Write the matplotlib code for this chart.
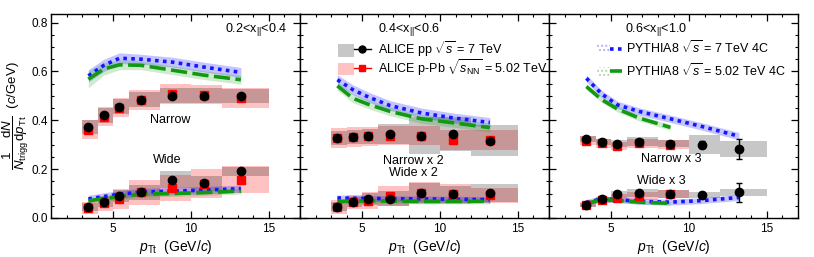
import numpy as np
import matplotlib
matplotlib.use('Agg')
import matplotlib.pyplot as plt
from matplotlib.patches import Patch
from matplotlib.lines import Line2D
from matplotlib.legend_handler import HandlerTuple
from matplotlib.ticker import MultipleLocator

plt.rcParams['font.family'] = ['Liberation Sans', 'DejaVu Sans']
plt.rcParams['mathtext.fontset'] = 'custom'
plt.rcParams['mathtext.rm'] = 'Liberation Sans'
plt.rcParams['mathtext.it'] = 'Liberation Sans:italic'
plt.rcParams['mathtext.bf'] = 'Liberation Sans:bold'

# bins and mean pT of the points
bin_edges = [3, 4, 5, 6, 8, 10, 12, 15]
pt_mean = [3.4, 4.4, 5.4, 6.8, 8.8, 10.8, 13.2]

panel_labels = ['0.2<x$_{||}$<0.4', '0.4<x$_{||}$<0.6', '0.6<x$_{||}$<1.0']
narrow_labels = ['Narrow', 'Narrow x 2', 'Narrow x 3']
wide_labels = ['Wide', 'Wide x 2', 'Wide x 3']

# ALICE pp 7 TeV (values, stat, sys)
pp_narrow = [[0.372, 0.42, 0.456, 0.484, 0.501, 0.501, 0.499],
             [0.327, 0.331, 0.334, 0.344, 0.337, 0.343, 0.317],
             [0.323, 0.311, 0.304, 0.313, 0.304, 0.300, 0.283]]
pp_narrow_stat = [[0.004, 0.004, 0.004, 0.004, 0.005, 0.006, 0.008],
                  [0.004, 0.004, 0.004, 0.005, 0.006, 0.008, 0.010],
                  [0.005, 0.005, 0.006, 0.007, 0.010, 0.015, 0.042]]
pp_narrow_sys = [[0.03, 0.03, 0.03, 0.03, 0.03, 0.03, 0.03],
                 [0.03, 0.03, 0.03, 0.04, 0.075, 0.07, 0.063],
                 [0.012, 0.012, 0.015, 0.018, 0.015, 0.038, 0.032]]
pp_wide = [[0.045, 0.064, 0.09, 0.105, 0.157, 0.142, 0.191],
           [0.047, 0.065, 0.079, 0.079, 0.102, 0.098, 0.102],
           [0.054, 0.078, 0.097, 0.102, 0.098, 0.095, 0.105]]
pp_wide_stat = [[0.003, 0.003, 0.004, 0.004, 0.005, 0.006, 0.008],
                [0.003, 0.003, 0.004, 0.004, 0.005, 0.007, 0.012],
                [0.004, 0.004, 0.005, 0.006, 0.008, 0.012, 0.040]]
pp_wide_sys = [[0.015, 0.02, 0.025, 0.03, 0.035, 0.03, 0.018],
               [0.02, 0.02, 0.025, 0.03, 0.04, 0.035, 0.037],
               [0.008, 0.01, 0.015, 0.018, 0.015, 0.012, 0.015]]

# ALICE p-Pb 5.02 TeV (values, sys); last panel stops at 10 GeV/c
ppb_narrow = [[0.362, 0.415, 0.452, 0.483, 0.508, 0.505, 0.492],
              [0.327, 0.331, 0.334, 0.337, 0.337, 0.320, 0.320],
              [0.316, 0.305, 0.295, 0.305, 0.300]]
ppb_narrow_sys = [[0.04, 0.04, 0.04, 0.04, 0.04, 0.04, 0.04],
                  [0.04, 0.04, 0.04, 0.04, 0.04, 0.04, 0.04],
                  [0.018, 0.018, 0.018, 0.02, 0.018]]
ppb_wide = [[0.041, 0.06, 0.078, 0.105, 0.123, 0.14, 0.157],
            [0.045, 0.065, 0.071, 0.091, 0.102, 0.098, 0.093],
            [0.054, 0.072, 0.082, 0.09, 0.098]]
ppb_wide_sys = [[0.025, 0.03, 0.04, 0.05, 0.055, 0.06, 0.055],
                [0.03, 0.03, 0.035, 0.04, 0.045, 0.04, 0.03],
                [0.01, 0.012, 0.015, 0.015, 0.015]]

# PYTHIA8 4C, 7 TeV (blue) and 5.02 TeV (green)
py7_narrow = [[0.582, 0.625, 0.654, 0.65, 0.638, 0.618, 0.596],
              [0.566, 0.525, 0.495, 0.46, 0.43, 0.41, 0.391],
              [0.572, 0.507, 0.463, 0.436, 0.406, 0.375, 0.335]]
py7_narrow_err = [[0.025, 0.025, 0.022, 0.02, 0.02, 0.02, 0.02],
                  [0.02, 0.02, 0.02, 0.02, 0.02, 0.02, 0.02],
                  [0.015, 0.015, 0.015, 0.015, 0.015, 0.015, 0.015]]
py5_narrow = [[0.568, 0.61, 0.627, 0.625, 0.605, 0.585, 0.566],
              [0.541, 0.49, 0.465, 0.436, 0.406, 0.39, 0.37],
              [0.538, 0.484, 0.446, 0.409, 0.371]]
py5_narrow_err = [[0.035, 0.025, 0.02, 0.018, 0.018, 0.018, 0.018],
                  [0.018, 0.018, 0.018, 0.018, 0.018, 0.018, 0.018],
                  [0.012, 0.012, 0.012, 0.012, 0.012]]
py7_wide = [[0.078, 0.088, 0.097, 0.106, 0.11, 0.114, 0.12],
            [0.082, 0.081, 0.08, 0.079, 0.078, 0.077, 0.075],
            [0.064, 0.078, 0.075, 0.068, 0.065, 0.071, 0.084]]
py7_wide_err = [[0.015, 0.015, 0.015, 0.015, 0.015, 0.015, 0.015],
                [0.012, 0.012, 0.012, 0.012, 0.012, 0.012, 0.012],
                [0.012, 0.012, 0.012, 0.012, 0.012, 0.012, 0.012]]
py5_wide = [[0.07, 0.08, 0.088, 0.098, 0.1, 0.104, 0.11],
            [0.068, 0.069, 0.07, 0.069, 0.068, 0.068, 0.068],
            [0.06, 0.075, 0.072, 0.065, 0.06]]
py5_wide_err = [[0.012, 0.012, 0.012, 0.012, 0.012, 0.012, 0.012],
                [0.01, 0.01, 0.01, 0.01, 0.01, 0.01, 0.01],
                [0.008, 0.008, 0.008, 0.008, 0.008]]

blue = '#1515ff'
green = '#119911'
dots = (0, (1, 1.2))
dashes = (0, (4.5, 1.5))


def sys_boxes(ax, vals, sys, color, alpha):
    n = len(vals)
    lo = np.array(bin_edges[:n])
    w = np.diff(bin_edges)[:n]
    v = np.array(vals)
    s = np.array(sys)
    ax.bar(lo, 2 * s, bottom=v - s, width=w, align='edge',
           color=color, alpha=alpha, linewidth=0, zorder=1)


def pythia(ax, vals, err, color, band_alpha, ls):
    n = len(vals)
    x = np.array(pt_mean[:n])
    v = np.array(vals)
    e = np.array(err)
    ax.fill_between(x, v - e, v + e, color=color, alpha=band_alpha, linewidth=0, zorder=2)
    ax.plot(x, v, color=color, linestyle=ls, linewidth=2.6, zorder=3)


fig = plt.figure(figsize=(8.14, 2.57), dpi=100)
W, H = 814.0, 257.0
lefts = [51, 300, 549]
axes = []
for p in range(3):
    ax = fig.add_axes([lefts[p] / W, 39 / H, 249 / W, 204 / H])
    axes.append(ax)

    for vals, sys in [(ppb_narrow[p], ppb_narrow_sys[p]), (ppb_wide[p], ppb_wide_sys[p])]:
        sys_boxes(ax, vals, sys, 'red', 0.24)
    for vals, sys in [(pp_narrow[p], pp_narrow_sys[p]), (pp_wide[p], pp_wide_sys[p])]:
        sys_boxes(ax, vals, sys, 'black', 0.22)

    pythia(ax, py7_narrow[p], py7_narrow_err[p], blue, 0.25, dots)
    pythia(ax, py5_narrow[p], py5_narrow_err[p], green, 0.2, dashes)
    pythia(ax, py7_wide[p], py7_wide_err[p], blue, 0.25, dots)
    pythia(ax, py5_wide[p], py5_wide_err[p], green, 0.2, dashes)

    for vals in [ppb_narrow[p], ppb_wide[p]]:
        ax.plot(pt_mean[:len(vals)], vals, 's', color='red', ms=5.5, zorder=4)
    for vals, st in [(pp_narrow[p], pp_narrow_stat[p]), (pp_wide[p], pp_wide_stat[p])]:
        ax.errorbar(pt_mean, vals, yerr=st, fmt='o', color='k', ms=6,
                    elinewidth=1, capsize=2, capthick=1, zorder=5)

    ax.set_xlim(1, 17)
    ax.set_ylim(0, 0.835)
    ax.xaxis.set_major_locator(MultipleLocator(5))
    ax.xaxis.set_minor_locator(MultipleLocator(1))
    ax.yaxis.set_major_locator(MultipleLocator(0.2))
    ax.yaxis.set_minor_locator(MultipleLocator(0.05))
    ax.tick_params(which='both', direction='in', top=True, right=True, labelsize=8.5)
    ax.tick_params(axis='y', pad=2)
    ax.tick_params(which='major', length=5, width=0.9)
    ax.tick_params(which='minor', length=2.5, width=0.8)
    for sp in ax.spines.values():
        sp.set_linewidth(1.0)
    if p > 0:
        ax.set_yticklabels([])
    ax.set_xlabel(r'$p_{\rm Tt}$  (GeV/$c$)', fontsize=10, labelpad=2)

    ax.text([0.699, 0.313, 0.305][p], 0.925, panel_labels[p], transform=ax.transAxes,
            fontsize=9, va='center', ha='left')

# Narrow / Wide labels
axes[0].text(8.67, 0.40, narrow_labels[0], fontsize=9, ha='center', va='center')
axes[0].text(8.45, 0.238, wide_labels[0], fontsize=9, ha='center', va='center')
axes[1].text(8.27, 0.232, narrow_labels[1], fontsize=9, ha='center', va='center')
axes[1].text(8.27, 0.184, wide_labels[1], fontsize=9, ha='center', va='center')
axes[2].text(8.85, 0.241, narrow_labels[2], fontsize=9, ha='center', va='center')
axes[2].text(8.2, 0.15, wide_labels[2], fontsize=9, ha='center', va='center')

axes[0].set_ylabel(r'$\dfrac{1}{N_{\rm trigg}}\dfrac{{\rm d}N}{{\rm d}p_{\rm Tt}}$  ($c$/GeV)',
                   fontsize=9.5)
axes[0].yaxis.set_label_coords(-0.082, 0.5)

# legends
h_pp = (Patch(facecolor='black', alpha=0.22, linewidth=0),
        Line2D([], [], color='k', marker='o', lw=1, ms=5))
h_ppb = (Patch(facecolor='red', alpha=0.24, linewidth=0),
         Line2D([], [], color='red', marker='s', lw=1, ms=5))
axes[1].legend([h_pp, h_ppb],
               [r'ALICE pp $\sqrt{s}$ = 7 TeV',
                r'ALICE p-Pb $\sqrt{s_{\rm NN}}$ = 5.02 TeV'],
               handler_map={tuple: HandlerTuple(ndivide=None)},
               loc='center left', bbox_to_anchor=(0.153, 0.78),
               frameon=False, fontsize=9, handlelength=2.6, handletextpad=0.6,
               borderpad=0, borderaxespad=0, labelspacing=-0.15, handleheight=1.2)

h_py7 = (Patch(facecolor='none', edgecolor=blue, alpha=0.3, hatch='....', linewidth=0),
         Line2D([], [], color=blue, linestyle=dots, lw=2.6))
h_py5 = (Patch(facecolor='none', edgecolor=green, alpha=0.3, hatch='....', linewidth=0),
         Line2D([], [], color=green, linestyle=dashes, lw=2.6))
axes[2].legend([h_py7, h_py5],
               [r'PYTHIA8 $\sqrt{s}$ = 7 TeV 4C', r'PYTHIA8 $\sqrt{s}$ = 5.02 TeV 4C'],
               handler_map={tuple: HandlerTuple(ndivide=None)},
               loc='center left', bbox_to_anchor=(0.193, 0.78),
               frameon=False, fontsize=9, handlelength=2.0, handletextpad=0.3,
               borderpad=0, borderaxespad=0, labelspacing=0.45)

fig.savefig('out.png', dpi=100)
